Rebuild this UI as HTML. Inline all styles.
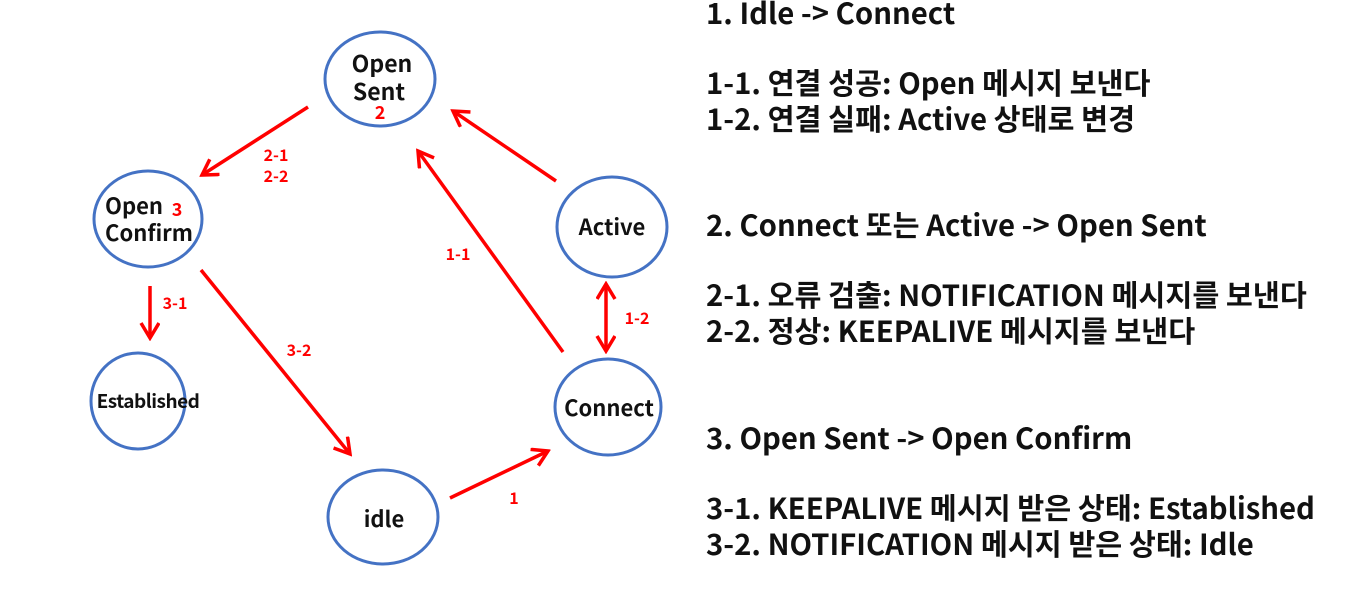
<!DOCTYPE html>
<html><head><meta charset="utf-8"><style>
body{margin:0;width:1364px;height:595px;background:#fff;overflow:hidden;position:relative;font-family:"Noto Sans CJK KR","Liberation Sans",sans-serif}
.t{position:absolute;left:706px;font-weight:bold;font-size:29.3px;color:#111;white-space:nowrap;line-height:1}
svg{position:absolute;left:0;top:0}
</style></head><body>
<svg width="1364" height="595">
<defs><marker id="a" markerWidth="20" markerHeight="24" refX="17" refY="10" orient="auto" markerUnits="userSpaceOnUse"><path d="M2,1 L17,10 L2,19" fill="none" stroke="#f00" stroke-width="3.5"/></marker>
<marker id="b" markerWidth="20" markerHeight="24" refX="17" refY="10" orient="auto-start-reverse" markerUnits="userSpaceOnUse"><path d="M2,1 L17,10 L2,19" fill="none" stroke="#f00" stroke-width="3.5"/></marker></defs>
<g fill="none" stroke="#4472c4" stroke-width="3">
<ellipse cx="380" cy="79" rx="55" ry="47"/>
<ellipse cx="148" cy="219" rx="54" ry="48"/>
<ellipse cx="138" cy="401" rx="47" ry="48"/>
<ellipse cx="383" cy="517" rx="55" ry="47"/>
<ellipse cx="608" cy="407" rx="53" ry="48"/>
<ellipse cx="612" cy="227" rx="55" ry="50"/>
</g>
<g stroke="#f00" stroke-width="3.5" fill="none">
<line x1="308" y1="107" x2="202" y2="175" marker-end="url(#a)"/>
<line x1="563" y1="352" x2="418" y2="151" marker-end="url(#a)"/>
<line x1="556" y1="181" x2="453" y2="111" marker-end="url(#a)"/>
<line x1="606" y1="284" x2="606" y2="351" marker-start="url(#b)" marker-end="url(#b)"/>
<line x1="150" y1="286" x2="150" y2="338" marker-end="url(#a)"/>
<line x1="201" y1="270" x2="350" y2="454" marker-end="url(#a)"/>
<line x1="450" y1="498" x2="548" y2="451" marker-end="url(#a)"/>
</g>
<g font-family="Noto Sans CJK KR, sans-serif" font-weight="bold" fill="#111" text-anchor="middle">
<text x="382" y="72" font-size="23">Open</text>
<text x="379" y="100" font-size="23">Sent</text>
<text x="134" y="214" font-size="22">Open</text>
<text x="149" y="241" font-size="22">Confirm</text>
<text x="148" y="408" font-size="19" letter-spacing="-0.5">Established</text>
<text x="384" y="527" font-size="22">idle</text>
<text x="609" y="416" font-size="22">Connect</text>
<text x="612" y="235" font-size="22">Active</text>
</g>
<g font-family="Noto Sans CJK KR, sans-serif" font-weight="bold" fill="#f00" font-size="16" text-anchor="middle">
<text x="380" y="119" font-size="18">2</text>
<text x="177" y="216" font-size="18">3</text>
<text x="276" y="161">2-1</text>
<text x="276" y="182">2-2</text>
<text x="458" y="260">1-1</text>
<text x="637" y="324">1-2</text>
<text x="175" y="309">3-1</text>
<text x="299" y="356">3-2</text>
<text x="514" y="504">1</text>
</g>
</svg>
<div class="t" style="top:-2px">1. Idle -&gt; Connect</div>
<div class="t" style="top:68px">1-1. 연결 성공: Open 메시지 보낸다</div>
<div class="t" style="top:104px">1-2. 연결 실패: Active 상태로 변경</div>
<div class="t" style="top:210px">2. Connect 또는 Active -&gt; Open Sent</div>
<div class="t" style="top:280px">2-1. 오류 검출: NOTIFICATION 메시지를 보낸다</div>
<div class="t" style="top:316px">2-2. 정상: KEEPALIVE 메시지를 보낸다</div>
<div class="t" style="top:423px">3. Open Sent -&gt; Open Confirm</div>
<div class="t" style="top:493px">3-1. KEEPALIVE 메시지 받은 상태: Established</div>
<div class="t" style="top:529px">3-2. NOTIFICATION 메시지 받은 상태: Idle</div>
</body></html>
